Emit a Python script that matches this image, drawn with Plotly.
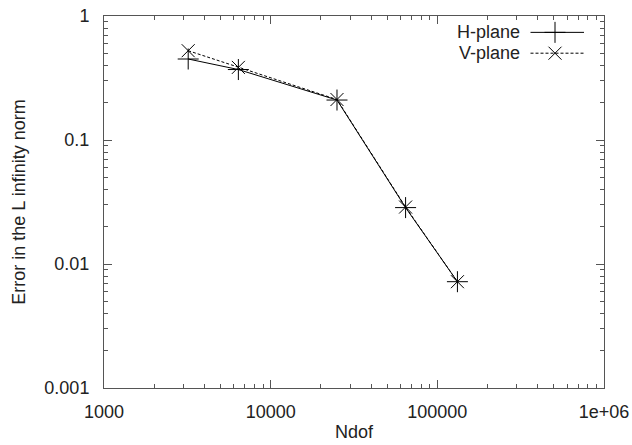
import plotly.graph_objects as go

ndof = [3200, 6400, 25000, 64500, 132000]
h_plane = [0.45, 0.37, 0.21, 0.0285, 0.0072]
v_plane = [0.525, 0.385, 0.212, 0.0288, 0.0072]
x_tickvals = [1000, 10000, 100000, 1000000]
x_ticktext = ["1000", "10000", "100000", "1e+06"]
y_tickvals = [0.001, 0.01, 0.1, 1]
y_ticktext = ["0.001", "0.01", "0.1", "1"]
series_names = ["H-plane", "V-plane"]

FONT = "Liberation Sans, Arial, Helvetica, sans-serif"
FS = 18

fig = go.Figure()
fig.add_trace(go.Scatter(
    x=ndof, y=h_plane, name=series_names[0], mode="lines+markers",
    line=dict(color="black", width=1),
    marker=dict(symbol="cross-thin-open", size=15, line=dict(color="black", width=1), color="black"),
    showlegend=False))
fig.add_trace(go.Scatter(
    x=ndof, y=v_plane, name=series_names[1], mode="lines+markers",
    line=dict(color="black", width=1, dash="3px,2px"),
    marker=dict(symbol="x-thin-open", size=13, line=dict(color="black", width=1), color="black"),
    showlegend=False))

axis_common = dict(
    type="log", showgrid=False, zeroline=False, automargin=False,
    showline=True, linecolor="#555", linewidth=1, mirror="allticks",
    ticks="inside", ticklen=8, tickcolor="#555", tickwidth=1,
    minor=dict(ticks="inside", ticklen=4, tickcolor="#555", dtick="D1", showgrid=False),
    tickfont=dict(family=FONT, size=FS, color="#222"),
)

fig.update_xaxes(**axis_common, range=[3, 6], tickvals=x_tickvals, ticktext=x_ticktext,
                 ticklabelstandoff=7,
                 title=dict(text="Ndof", font=dict(family=FONT, size=FS, color="#222"), standoff=4))
fig.update_yaxes(**axis_common, range=[-3, 0], tickvals=y_tickvals, ticktext=y_ticktext,
                 ticklabelstandoff=10,
                 title=dict(text="Error in the L infinity norm", font=dict(family=FONT, size=FS, color="#222"), standoff=14))

# gnuplot-style legend: text, then line sample with marker
legend_y = [0.956, 0.90]
for i, name in enumerate(series_names):
    y = legend_y[i]
    fig.add_annotation(xref="paper", yref="paper", x=0.836, y=y, text=name, showarrow=False,
                       xanchor="right", yanchor="middle", font=dict(family=FONT, size=FS, color="#222"))
    fig.add_shape(type="line", xref="paper", yref="paper", x0=0.853, x1=0.96, y0=y, y1=y,
                  line=dict(color="black", width=1, dash="solid" if i == 0 else "3px,2px"))

fig.add_trace(go.Scatter(x=[0.902], y=[legend_y[0]], xaxis="x2", yaxis="y2", mode="markers",
                         marker=dict(symbol="cross-thin-open", size=15, color="black",
                                     line=dict(color="black", width=1)),
                         showlegend=False, hoverinfo="skip"))
fig.add_trace(go.Scatter(x=[0.902], y=[legend_y[1]], xaxis="x2", yaxis="y2", mode="markers",
                         marker=dict(symbol="x-thin-open", size=13, color="black",
                                     line=dict(color="black", width=1)),
                         showlegend=False, hoverinfo="skip"))

fig.update_layout(
    width=632, height=445,
    margin=dict(l=104, r=28, t=16, b=57),
    paper_bgcolor="white", plot_bgcolor="white",
    xaxis2=dict(overlaying="x", range=[0, 1], visible=False),
    yaxis2=dict(overlaying="y", range=[0, 1], visible=False),
    font=dict(family=FONT, size=FS, color="#222"),
)

fig.write_html("out.html", config={"displayModeBar": False},
               post_script="document.body.style.margin='0';document.body.style.overflow='hidden';")
